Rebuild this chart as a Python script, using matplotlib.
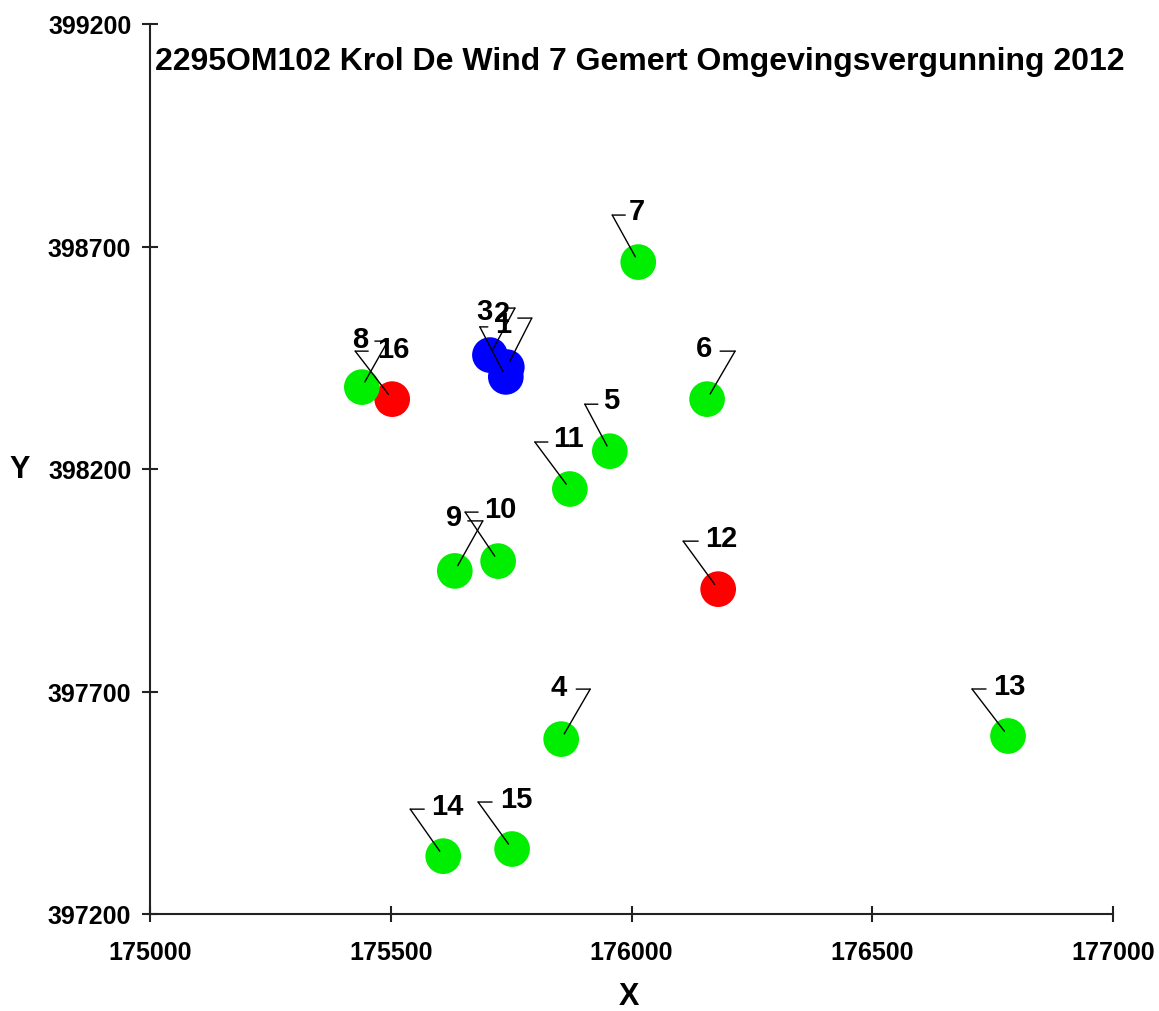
import matplotlib
matplotlib.use("Agg")
import matplotlib.pyplot as plt
from matplotlib.transforms import offset_copy
import numpy as np

plt.rcParams['font.family'] = ['Liberation Sans', 'DejaVu Sans']
plt.rcParams['font.weight'] = 'bold'

# ---- data ----
title = "2295OM102 Krol De Wind 7 Gemert Omgevingsvergunning 2012"
labels = ["1", "2", "3", "4", "5", "6", "7", "8", "9", "10", "11", "12", "13", "14", "15", "16"]
x_vals = [175741, 175706, 175739, 175854, 175955, 176157, 176014, 175503,
          175633, 175723, 175872, 176180, 176782, 175609, 175752, 175440]
y_vals = [398429, 398456, 398407, 397593, 398240, 398357, 398665, 398357,
          397971, 397993, 398155, 397930, 397600, 397330, 397346, 398384]
kinds = ["blue", "blue", "blue", "green", "green", "green", "green", "red",
         "green", "green", "green", "red", "green", "green", "green", "green"]
x_ticks = [175000, 175500, 176000, 176500, 177000]
y_ticks = [397200, 397700, 398200, 398700, 399200]

# ---- style / layout ----
colors = {"blue": "#0000ff", "green": "#00ee00", "red": "#ff0000"}
# label layout in pixels relative to point (screen y downwards):
# corner dx, corner dy, horizontal segment length (signed), text dx, text dy
label_layout = {
    "1": (25, -49, -14, -4, -43),
    "2": (25, -47, -10, 12, -42),
    "3": (-26, -50, 8, -21, -66),
    "4": (29, -50, -14, -3, -52),
    "5": (-25, -47, 13, 1, -51),
    "6": (28, -48, -15, -3, -51),
    "7": (-26, -47, 13, -1, -51),
    "8": (-37, -48, 13, -32, -60),
    "9": (28, -50, -15, -1, -54),
    "10": (-33, -49, 13, 2, -52),
    "11": (-35, -47, 13, -1, -51),
    "12": (-35, -48, 15, 3, -51),
    "13": (-36, -47, 14, 1, -50),
    "14": (-33, -47, 14, 4, -50),
    "15": (-34, -47, 14, 4, -50),
    "16": (26, -46, -13, 31, -38),
}

W, H = 1159, 1012
fig = plt.figure(figsize=(W / 100, H / 100), dpi=100)
ax = fig.add_axes([150 / W, 1 - 915 / H, 963 / W, 890 / H])
ax.set_xlim(175000, 177000)
ax.set_ylim(397200, 399200)

for side in ("top", "right"):
    ax.spines[side].set_visible(False)
for side in ("left", "bottom"):
    ax.spines[side].set_color("#222222")
    ax.spines[side].set_linewidth(1.5)

ax.set_xticks(x_ticks)
ax.set_yticks(y_ticks)
ax.set_xticklabels([str(v) for v in x_ticks])
ax.set_yticklabels([str(v) for v in y_ticks])
ax.tick_params(axis="both", direction="inout", length=11, width=1.5, color="#222222",
               labelsize=18)
ax.tick_params(axis="x", pad=13)
ax.tick_params(axis="y", pad=8)
for t in ax.get_xticklabels() + ax.get_yticklabels():
    t.set_fontweight("bold")

ax.scatter(x_vals, y_vals, s=660, c=[colors[k] for k in kinds], edgecolors="none",
           zorder=2, clip_on=False)

def off(dx, dy):
    return offset_copy(ax.transData, fig=fig, x=dx, y=-dy, units="dots")

for lab, x, y in zip(labels, x_vals, y_vals):
    cdx, cdy, hl, tdx, tdy = label_layout[lab]
    n = np.hypot(cdx, cdy)
    edx, edy = cdx / n * 6, cdy / n * 6
    ax.annotate("", xy=(x, y), xycoords=off(edx, edy), xytext=(x, y),
                textcoords=off(cdx, cdy),
                arrowprops=dict(arrowstyle="-", shrinkA=0, shrinkB=0, lw=1.0, color="black"),
                zorder=3, annotation_clip=False)
    ax.annotate("", xy=(x, y), xycoords=off(cdx + hl, cdy), xytext=(x, y),
                textcoords=off(cdx, cdy),
                arrowprops=dict(arrowstyle="-", shrinkA=0, shrinkB=0, lw=1.0, color="black"),
                zorder=3, annotation_clip=False)
    ax.text(x, y, lab, transform=off(tdx, tdy), ha="center", va="center",
            fontsize=21, fontweight="bold", color="black", zorder=4)

fig.text(155 / W, 1 - 62 / H, title, ha="left", va="center", fontsize=23, fontweight="bold")
fig.text(20 / W, 1 - 470 / H, "Y", ha="center", va="center", fontsize=22, fontweight="bold")
fig.text(629 / W, 1 - 997 / H, "X", ha="center", va="center", fontsize=22, fontweight="bold")

fig.savefig("out.png", dpi=100)
